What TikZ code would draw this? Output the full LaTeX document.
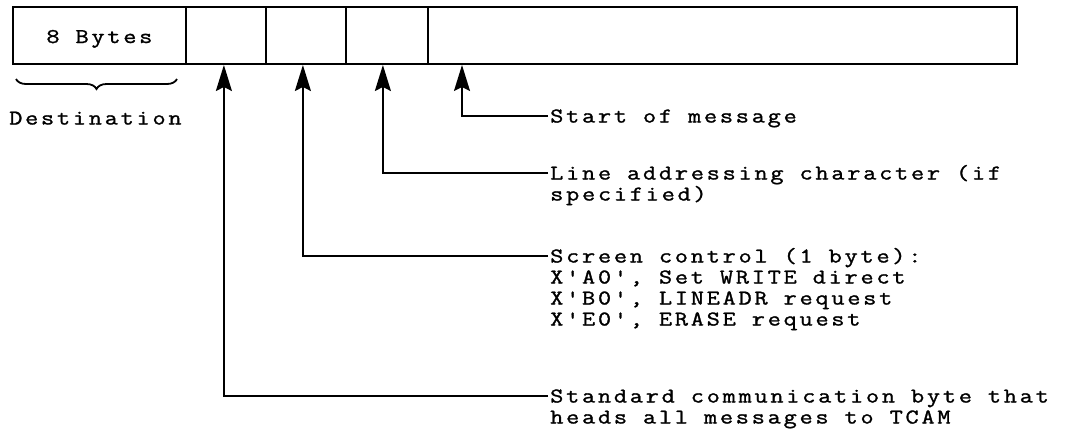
\documentclass[tikz,border=0pt]{standalone}
\usepackage{fontspec}
\newfontfamily\tw{Latin Modern Mono}[FakeStretch=1.22, LetterSpace=13, FakeBold=1.3]
\usetikzlibrary{arrows.meta,decorations.pathreplacing}
\tikzset{
  cell/.style={draw, line width=1.8pt, minimum height=57pt, inner sep=0pt, anchor=south west},
  lbl/.style={font=\tw\fontsize{21}{21}\selectfont, inner sep=0pt, anchor=base west, text height=13pt, text depth=4pt},
  arr/.style={line width=1.7pt, -{Stealth[length=26pt,width=16pt,inset=4pt]}},
}
\begin{document}
\begin{tikzpicture}[x=1pt,y=-1pt]
\useasboundingbox (0,0) rectangle (1079,429);
% message cells
\node[cell, minimum width=173pt] (c0) at (12,65) {};
\node[cell, minimum width=80pt]  (c1) at (185,65) {};
\node[cell, minimum width=80pt]  (c2) at (265,65) {};
\node[cell, minimum width=82pt]  (c3) at (345,65) {};
\node[cell, minimum width=589pt] (c4) at (427,65) {};
\node[lbl, anchor=base] (bytes) at (c0.center |- 0,43) {8 Bytes};
% brace and destination
\coordinate (bl) at (16,79);
\coordinate (br) at (177,79);
\draw[line width=1.8pt, decorate, decoration={brace, amplitude=10pt}] (br) -- (bl);
\node[lbl] (dest) at (9,124.5) {Destination};
% labels
\node[lbl] (l4) at (550,122.5) {Start of message};
\node[lbl] (l3) at (550,179.5) {Line addressing character (if};
\node[lbl] (l3b) at (550,200.5) {specified)};
\node[lbl] (l2) at (550,262.5) {Screen control (1 byte):};
\node[lbl] (l2b) at (550,283.5) {X'A0', Set WRITE direct};
\node[lbl] (l2c) at (550,304.5) {X'B0', LINEADR request};
\node[lbl] (l2d) at (550,325.5) {X'E0', ERASE request};
\node[lbl] (l1) at (550,402.5) {Standard communication byte that};
\node[lbl] (l1b) at (550,423.5) {heads all messages to TCAM};
% connectors
\draw[arr] ([xshift=-2pt,yshift=6.5pt]l4.base west) -| ([xshift=35pt]c4.south west);
\draw[arr] ([xshift=-2pt,yshift=6.5pt]l3.base west) -| ([xshift=-4pt]c3.south);
\draw[arr] ([xshift=-2pt,yshift=6.5pt]l2.base west) -| ([xshift=-3pt]c2.south);
\draw[arr] ([xshift=-2pt,yshift=6.5pt]l1.base west) -| ([xshift=-2pt]c1.south);
\end{tikzpicture}
\end{document}
